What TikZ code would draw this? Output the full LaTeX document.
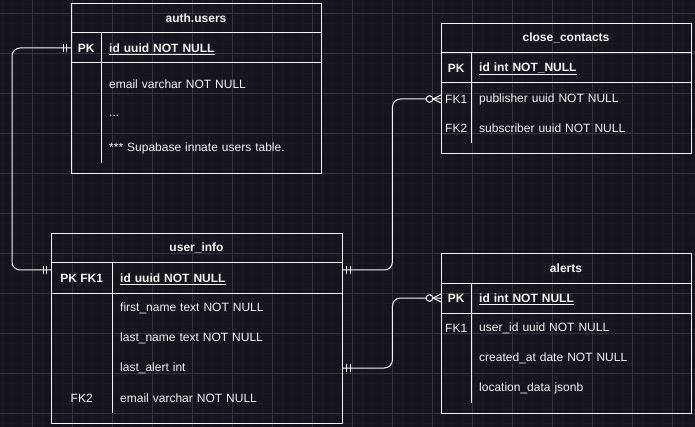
\documentclass[tikz,border=0pt]{standalone}
\usepackage{fontspec}
\setmainfont{Liberation Sans}
\usetikzlibrary{decorations.markings}

\definecolor{bg}{RGB}{24,20,29}
\definecolor{gridminor}{RGB}{28,24,34}
\definecolor{gridmajor}{RGB}{55,51,61}
\definecolor{fg}{RGB}{245,245,245}

\begin{document}
\begin{tikzpicture}[
    x=1pt, y=-1pt,
    every node/.style={font=\fontsize{12pt}{14pt}\selectfont, text=fg},
    tbl/.style={rectangle, draw=fg, line width=1pt, inner sep=0pt, anchor=north west},
    tline/.style={draw=fg, line width=1pt},
    title/.style={font=\fontsize{12pt}{14pt}\selectfont\bfseries},
    key/.style={anchor=west, inner sep=0pt, minimum height=30pt, minimum width=30pt},
    pkey/.style={key, font=\fontsize{12pt}{14pt}\selectfont\bfseries},
    field/.style={anchor=west, inner xsep=8pt, inner ysep=0pt, minimum height=30pt, align=left, text width=204pt},
    pfield/.style={field, font=\fontsize{12pt}{14pt}\selectfont\bfseries},
    rel/.style={draw=fg, line width=1pt, rounded corners=8pt},
    tickmark/.style={draw=fg, line width=1pt, rounded corners=0pt},
    onestart/.style={postaction={decorate, decoration={markings,
        mark=at position 4.5pt with {\draw[tickmark] (0,-4pt) -- (0,4pt);},
        mark=at position 8pt with {\draw[tickmark] (0,-4pt) -- (0,4pt);}}}},
    oneend/.style={postaction={decorate, decoration={markings,
        mark=at position -8pt with {\draw[tickmark] (0,-4pt) -- (0,4pt);},
        mark=at position -4.5pt with {\draw[tickmark] (0,-4pt) -- (0,4pt);}}}},
    manyend/.style={postaction={decorate, decoration={markings,
        mark=at position -11.5pt with {\draw[tickmark, fill=bg] (0,0) circle (3.3pt);},
        mark=at position -8pt with {\draw[tickmark] (0,0) -- (8pt,4pt) (0,0) -- (8pt,-4pt);}}}}
]

% ===== Background and grid =====
\fill[bg] (0,0) rectangle (695,427);
\useasboundingbox (0,0) rectangle (695,427);
\foreach \x in {2,12,...,692} \draw[gridminor, line width=0.6pt] (\x,0) -- (\x,427);
\foreach \y in {3,13,...,423} \draw[gridminor, line width=0.6pt] (0,\y) -- (695,\y);
\foreach \x in {32,72,...,672} \draw[gridmajor, line width=0.8pt] (\x,0) -- (\x,427);
\foreach \y in {13,53,...,413} \draw[gridmajor, line width=0.8pt] (0,\y) -- (695,\y);

% ===== auth.users =====
\node[tbl, minimum width=250pt, minimum height=170pt] (auth) at (71,3) {};
\node[title] (auth_title) at (196,18) {auth.users};
\draw[tline] (71,33) -- (321,33);
\draw[tline] (71,63) -- (321,63);
\draw[tline] (101,33) -- (101,163);
\node[pkey] (auth_pk) at (71,48) {PK};
\node[pfield] (auth_id) at (101,49) {\underline{id uuid NOT NULL}};
\node[field] (auth_email) at (101,84) {email varchar NOT NULL};
\node[field] (auth_more) at (101,116) {...};
\node[field] (auth_note) at (101,148) {*** Supabase innate users table.};

% ===== close_contacts =====
\node[tbl, minimum width=250pt, minimum height=130pt] (cc) at (441,23) {};
\node[title] (cc_title) at (566,38) {close\_contacts};
\draw[tline] (441,53) -- (691,53);
\draw[tline] (441,83) -- (691,83);
\draw[tline] (471,53) -- (471,143);
\node[pkey] (cc_pk) at (441,68) {PK};
\node[pfield] (cc_id) at (471,69) {\underline{id int NOT\_NULL}};
\node[key] (cc_fk1) at (441,99) {FK1};
\node[field] (cc_pub) at (471,99) {publisher uuid NOT NULL};
\node[key] (cc_fk2) at (441,128) {FK2};
\node[field] (cc_sub) at (471,128) {subscriber uuid NOT NULL};

% ===== user_info =====
\node[tbl, minimum width=291pt, minimum height=190pt] (ui) at (51,233) {};
\node[title] (ui_title) at (196.5,248) {user\_info};
\draw[tline] (51,263) -- (342,263);
\draw[tline] (51,293) -- (342,293);
\draw[tline] (112,263) -- (112,413);
\node[pkey, minimum width=61pt] (ui_pk) at (51,278) {PK FK1};
\node[pfield, text width=214pt] (ui_id) at (112,279) {\underline{id uuid NOT NULL}};
\node[field, text width=214pt] (ui_first) at (112,308) {first\_name text NOT NULL};
\node[field, text width=214pt] (ui_last) at (112,338) {last\_name text NOT NULL};
\node[field, text width=214pt] (ui_alert) at (112,368) {last\_alert int};
\node[key, minimum width=61pt] (ui_fk2) at (51,398) {FK2};
\node[field, text width=214pt] (ui_email) at (112,398) {email varchar NOT NULL};

% ===== alerts =====
\node[tbl, minimum width=250pt, minimum height=160pt] (al) at (441,253) {};
\node[title] (al_title) at (566,268) {alerts};
\draw[tline] (441,283) -- (691,283);
\draw[tline] (441,313) -- (691,313);
\draw[tline] (471,283) -- (471,403);
\node[pkey] (al_pk) at (441,298) {PK};
\node[pfield] (al_id) at (471,299) {\underline{id int NOT NULL}};
\node[key] (al_fk1) at (441,328) {FK1};
\node[field] (al_user) at (471,328) {user\_id uuid NOT NULL};
\node[field] (al_created) at (471,358) {created\_at date NOT NULL};
\node[field] (al_loc) at (471,388) {location\_data jsonb};

% ===== Relations =====
% auth.users (1) -- (1) user_info
\draw[rel, onestart, oneend] (auth_pk.west) -- ++(-59,0) |- ([yshift=8pt]ui_pk.west);
% user_info (1) -- (0..n) close_contacts
\draw[rel, onestart, manyend] ([yshift=9pt]ui_id.east) -- ++(50,0) |- (cc_fk1.west);
% user_info (1) -- (0..n) alerts
\draw[rel, onestart, manyend] (ui_alert.east) -- ++(50,0) |- (al_pk.west);

\end{tikzpicture}
\end{document}
